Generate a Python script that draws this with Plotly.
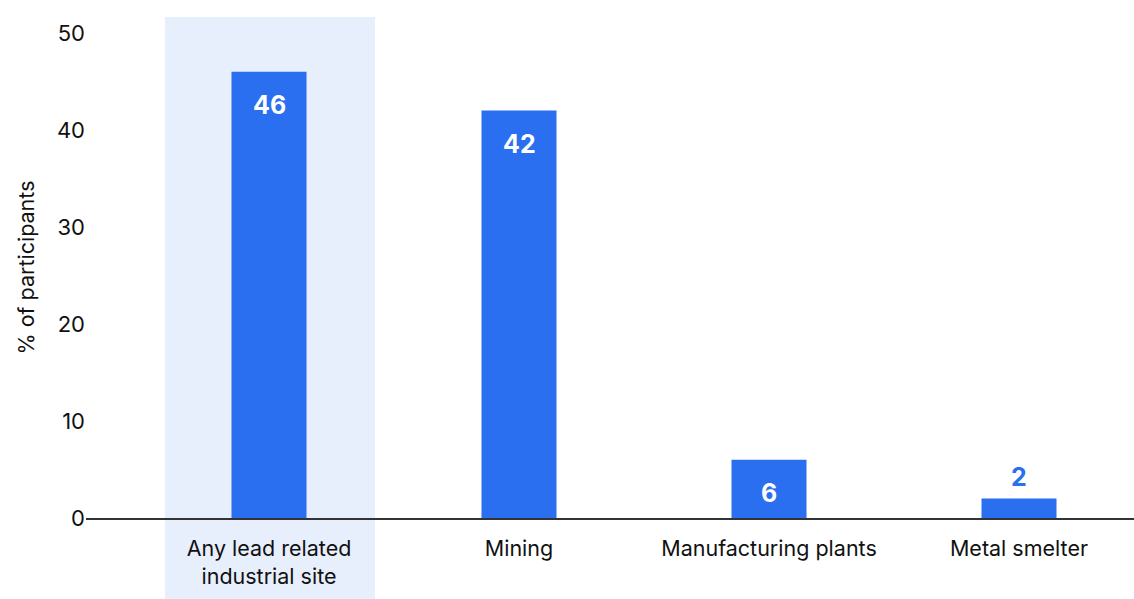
import plotly.graph_objects as go

# Data
categories = ["Any lead related<br>industrial site", "Mining", "Manufacturing plants", "Metal smelter"]
values = [46, 42, 6, 2]
y_ticks = [0, 10, 20, 30, 40, 50]
highlight_index = 0

BAR_BLUE = "#2a6ff0"
BAND_BLUE = "#e8effc"
FONT = "Inter, 'Noto Sans', sans-serif"

fig = go.Figure()
fig.add_trace(go.Bar(
    x=categories,
    y=values,
    width=0.3,
    marker=dict(color=BAR_BLUE, line=dict(width=0)),
    hoverinfo="skip",
))

# Background band behind the highlighted category
fig.add_shape(
    type="rect", xref="x", yref="paper",
    x0=highlight_index - 0.416, x1=highlight_index + 0.424,
    y0=-0.17, y1=1.0,
    fillcolor=BAND_BLUE, line=dict(width=0), layer="below",
)

# Value labels: inside the top of tall bars, above short ones
for cat, v in zip(categories, values):
    inside = v >= 5
    fig.add_annotation(
        x=cat, y=v, text=f"<b>{v}</b>", showarrow=False,
        yshift=-33 if inside else 22,
        font=dict(family=FONT, size=25, color="white" if inside else BAR_BLUE),
    )

fig.update_layout(
    width=1134, height=599,
    margin=dict(l=86, r=0, t=17, b=81),
    paper_bgcolor="white", plot_bgcolor="rgba(0,0,0,0)",
    showlegend=False,
    font=dict(family=FONT, size=20, color="#111111"),
    xaxis=dict(
        range=[-0.732, 3.46],
        showline=True, linecolor="#333333", linewidth=1.5,
        showgrid=False, ticks="", tickfont=dict(size=21.5),
        ticklabelstandoff=10,
        fixedrange=True,
    ),
    yaxis=dict(
        range=[0, 51.65],
        tickvals=y_ticks,
        showgrid=False, zeroline=False, showline=False, ticks="",
        tickfont=dict(size=22),
        title=dict(text="% of participants", font=dict(size=21.5), standoff=16),
        fixedrange=True,
    ),
)

fig.write_html("out.html")
